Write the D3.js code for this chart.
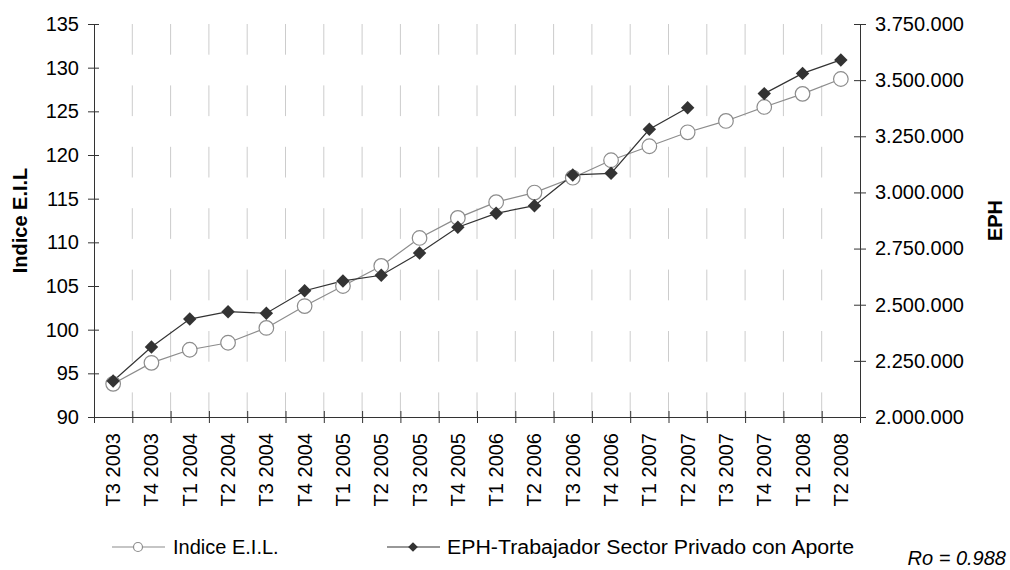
<!DOCTYPE html>
<html>
<head>
<meta charset="utf-8">
<script src="https://cdn.jsdelivr.net/npm/d3@7"></script>
<style>
  body { margin: 0; background: #fff; }
  text { font-family: "Liberation Sans", Arial, sans-serif; }
</style>
</head>
<body>
<div class="canvas"></div>
<script>
// quarters on the x axis
const quarters = ['T3 2003','T4 2003','T1 2004','T2 2004','T3 2004','T4 2004',
  'T1 2005','T2 2005','T3 2005','T4 2005','T1 2006','T2 2006','T3 2006','T4 2006',
  'T1 2007','T2 2007','T3 2007','T4 2007','T1 2008','T2 2008'];

// Indice E.I.L. (left axis)
const indiceEIL = [93.8, 96.2, 97.7, 98.5, 100.2, 102.7, 105.0, 107.3, 110.5, 112.8,
  114.6, 115.7, 117.4, 119.4, 121.0, 122.6, 123.9, 125.5, 127.0, 128.7];

// EPH - trabajador sector privado con aporte (right axis), no value for T3 2007
const ephAporte = [2160000, 2312000, 2436000, 2469000, 2462000, 2562000, 2606000, 2631000,
  2730000, 2845000, 2907000, 2941000, 3078000, 3085000, 3281000, 3377000, null,
  3440000, 3530000, 3590000];

const leftTicks = [90, 95, 100, 105, 110, 115, 120, 125, 130, 135];
const rightTicks = [2000000, 2250000, 2500000, 2750000, 3000000, 3250000, 3500000, 3750000];

const dims = { width: 1010, height: 570 };
const plot = { left: 94, right: 860, top: 24, bottom: 417 };

const locale = d3.formatLocale({ decimal: ',', thousands: '.', grouping: [3], currency: ['$', ''] });
const fmtThousands = locale.format(',d');

const svg = d3.select('.canvas').append('svg')
  .attr('width', dims.width)
  .attr('height', dims.height);

//------------------------scales
const x = d3.scaleBand().domain(quarters).range([plot.left, plot.right]).padding(0);
const xEdge = d3.scaleLinear().domain([0, quarters.length]).range([plot.left, plot.right]);
const yLeft = d3.scaleLinear().domain([90, 135]).range([plot.bottom, plot.top]);
const yRight = d3.scaleLinear().domain([2000000, 3750000]).range([plot.bottom, plot.top]);

//------------------------dashed vertical gridlines between quarters
svg.append('g').selectAll('line')
  .data(d3.range(1, quarters.length))
  .enter().append('line')
  .attr('x1', d => xEdge(d)).attr('x2', d => xEdge(d))
  .attr('y1', plot.top).attr('y2', plot.bottom)
  .attr('stroke', '#cccccc')
  .attr('stroke-width', 1)
  .attr('stroke-dasharray', '30.7,30.7');

//------------------------axes
const axisColor = '#333';
const styleAxis = (g) => {
  g.select('.domain').attr('stroke', axisColor);
  g.selectAll('.tick line').attr('stroke', axisColor);
  g.selectAll('.tick text').attr('fill', '#000').style('font-size', '20px');
};

const leftAxis = svg.append('g')
  .attr('transform', `translate(${plot.left},0)`)
  .call(d3.axisLeft(yLeft).tickValues(leftTicks).tickSizeOuter(0).tickSize(6).tickPadding(9));
leftAxis.selectAll('.tick line').attr('x2', 5).attr('x1', -6);
styleAxis(leftAxis);

const rightAxis = svg.append('g')
  .attr('transform', `translate(${plot.right},0)`)
  .call(d3.axisRight(yRight).tickValues(rightTicks).tickFormat(fmtThousands)
    .tickSizeOuter(0).tickSize(6).tickPadding(9));
rightAxis.selectAll('.tick line').attr('x1', -6).attr('x2', 6);
styleAxis(rightAxis);

// x axis line + ticks on quarter boundaries
const xTicks = svg.append('g')
  .attr('transform', `translate(0,${plot.bottom})`)
  .call(d3.axisBottom(xEdge).tickValues(d3.range(0, quarters.length + 1)).tickFormat('').tickSizeOuter(0).tickSize(6));
xTicks.selectAll('.tick line').attr('y1', -6).attr('y2', 6);
styleAxis(xTicks);

// rotated quarter labels
const xLabels = svg.append('g')
  .attr('transform', `translate(0,${plot.bottom})`)
  .call(d3.axisBottom(x).tickSize(0).tickPadding(0));
xLabels.select('.domain').remove();
xLabels.selectAll('.tick text')
  .attr('transform', 'rotate(-90)')
  .attr('x', -16).attr('y', 0).attr('dy', '0.35em')
  .attr('text-anchor', 'end')
  .attr('fill', '#000')
  .style('font-size', '20px');

// axis titles
svg.append('text')
  .attr('transform', `translate(27,${(plot.top + plot.bottom) / 2}) rotate(-90)`)
  .attr('text-anchor', 'middle')
  .style('font-size', '20px').style('font-weight', 'bold')
  .text('Indice E.I.L');

svg.append('text')
  .attr('transform', `translate(1002,${(plot.top + plot.bottom) / 2}) rotate(-90)`)
  .attr('text-anchor', 'middle')
  .style('font-size', '20px').style('font-weight', 'bold')
  .text('EPH');

//------------------------series
const cx = (d, i) => x(quarters[i]) + x.bandwidth() / 2;

const lineEIL = d3.line().x((d, i) => cx(d, i)).y(d => yLeft(d));
svg.append('path')
  .datum(indiceEIL)
  .attr('d', lineEIL)
  .attr('fill', 'none')
  .attr('stroke', '#8c8c8c')
  .attr('stroke-width', 1.2);

const lineEPH = d3.line().defined(d => d !== null).x((d, i) => cx(d, i)).y(d => yRight(d));
svg.append('path')
  .datum(ephAporte)
  .attr('d', lineEPH)
  .attr('fill', 'none')
  .attr('stroke', '#333')
  .attr('stroke-width', 1.2);

svg.append('g').selectAll('circle')
  .data(indiceEIL)
  .enter().append('circle')
  .attr('cx', (d, i) => cx(d, i))
  .attr('cy', d => yLeft(d))
  .attr('r', 7.3)
  .attr('fill', '#fff')
  .attr('stroke', '#8c8c8c')
  .attr('stroke-width', 1.2);

const diamond = d3.symbol().type(d3.symbolDiamond2);
svg.append('g').selectAll('path')
  .data(ephAporte.map((v, i) => ({ v, i })).filter(d => d.v !== null))
  .enter().append('path')
  .attr('d', diamond.size(115)())
  .attr('transform', d => `translate(${cx(d.v, d.i)},${yRight(d.v)})`)
  .attr('fill', '#333');

//------------------------legend
const legend = svg.append('g');
const legY = 547;

legend.append('line').attr('x1', 112).attr('x2', 165).attr('y1', legY).attr('y2', legY)
  .attr('stroke', '#8c8c8c').attr('stroke-width', 1.2);
legend.append('circle').attr('cx', 138).attr('cy', legY).attr('r', 4.5)
  .attr('fill', '#fff').attr('stroke', '#8c8c8c').attr('stroke-width', 1.2);
legend.append('text').attr('x', 173).attr('y', legY).attr('dy', '0.35em')
  .style('font-size', '20px').text('Indice E.I.L.');

legend.append('line').attr('x1', 387).attr('x2', 440).attr('y1', legY).attr('y2', legY)
  .attr('stroke', '#333').attr('stroke-width', 1.2);
legend.append('path').attr('d', diamond.size(60)())
  .attr('transform', `translate(413,${legY})`).attr('fill', '#333');
legend.append('text').attr('x', 447).attr('y', legY).attr('dy', '0.35em')
  .attr('textLength', 407).attr('lengthAdjust', 'spacingAndGlyphs')
  .style('font-size', '20px').text('EPH-Trabajador Sector Privado con Aporte');

svg.append('text')
  .attr('x', 1006).attr('y', 565)
  .attr('text-anchor', 'end')
  .style('font-size', '20px').style('font-style', 'italic')
  .text('Ro = 0.988');
</script>
</body>
</html>
